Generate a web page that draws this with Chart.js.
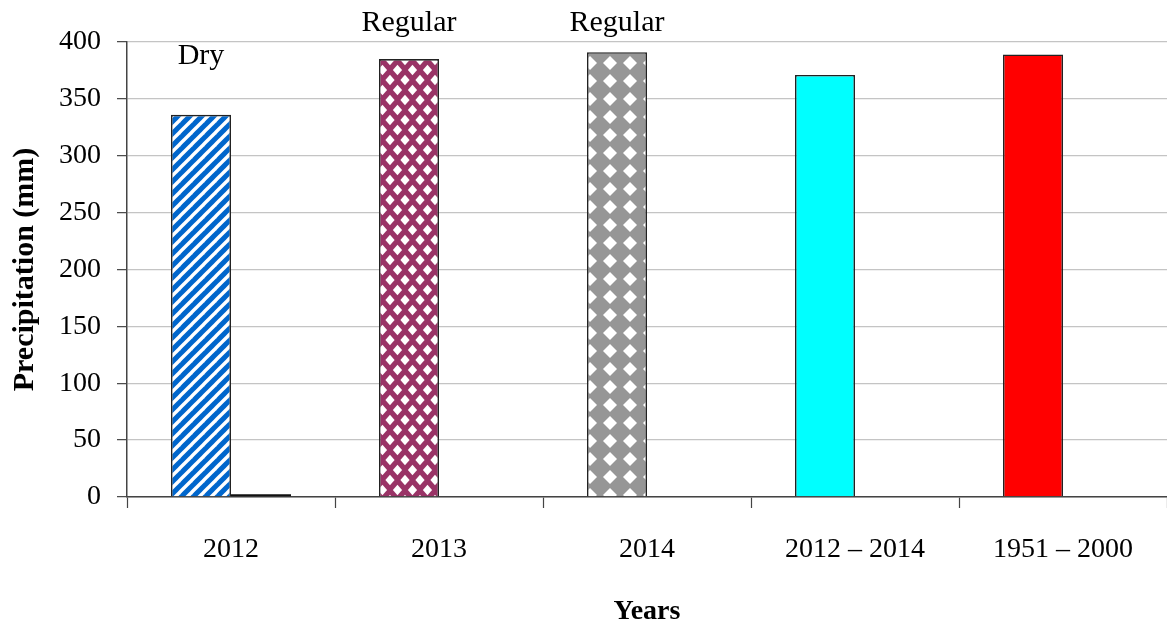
<!DOCTYPE html>
<html>
<head>
<meta charset="utf-8">
<script src="https://cdn.jsdelivr.net/npm/chart.js@4.4.1/dist/chart.umd.min.js"></script>
<style>
  html, body { margin: 0; padding: 0; background: #fff; overflow: hidden; }
  #wrap { width: 1167px; height: 626px; position: relative; }
</style>
</head>
<body>
<div id="wrap"><canvas id="chart"></canvas></div>
<script>
// Annual precipitation per period
const periods = ['2012', '2013', '2014', '2012 – 2014', '1951 – 2000'];
const precipitation = [336, 385, 391, 371, 389];
const secondary = [2.5, 0, 0, 0, 0];
const barNotes = ['Dry', 'Regular', 'Regular', '', ''];
const yTicks = [0, 50, 100, 150, 200, 250, 300, 350, 400];

const SERIF = '"Liberation Serif", "Times New Roman", serif';

function makeTile(w, h, draw) {
  const c = document.createElement('canvas');
  c.width = w; c.height = h;
  const g = c.getContext('2d');
  draw(g, w, h);
  return document.getElementById('chart').getContext('2d').createPattern(c, 'repeat');
}

// blue with white diagonal stripes
const stripes = makeTile(12, 12, (g, w, h) => {
  g.fillStyle = '#0066CC';
  g.fillRect(0, 0, w, h);
  g.strokeStyle = '#ffffff';
  g.lineWidth = 3.4;
  [[0, 12, 12, 0], [-6, 6, 6, -6], [6, 18, 18, 6]].forEach(([a, b, c, d]) => {
    g.beginPath(); g.moveTo(a, b); g.lineTo(c, d); g.stroke();
  });
});

function diamond(g, cx, cy, hw, hh) {
  g.beginPath();
  g.moveTo(cx, cy - hh); g.lineTo(cx + hw, cy);
  g.lineTo(cx, cy + hh); g.lineTo(cx - hw, cy);
  g.closePath(); g.fill();
}

// maroon with offset white diamonds
const maroonDiamonds = makeTile(15, 20, (g, w, h) => {
  g.fillStyle = '#993366';
  g.fillRect(0, 0, w, h);
  g.fillStyle = '#ffffff';
  [[0, 0], [w, 0], [0, h], [w, h], [w / 2, h / 2]].forEach(([x, y]) => diamond(g, x, y, 4.6, 5.2));
});

// grey with white diamonds in a square grid
const greyDiamonds = makeTile(20, 18, (g, w, h) => {
  g.fillStyle = '#969696';
  g.fillRect(0, 0, w, h);
  g.fillStyle = '#ffffff';
  diamond(g, w / 2, h / 2, 7, 7);
});

const notesPlugin = {
  id: 'barNotes',
  afterDatasetsDraw(chart, args, opts) {
    const { ctx } = chart;
    const meta = chart.getDatasetMeta(0);
    const y = chart.scales.y;
    ctx.save();
    ctx.font = opts.font;
    ctx.fillStyle = '#000';
    ctx.textAlign = 'center';
    ctx.textBaseline = 'alphabetic';
    barNotes.forEach((txt, i) => {
      if (!txt) return;
      const bar = meta.data[i];
      ctx.fillText(txt, bar.x, y.getPixelForValue(opts.levels[i]));
    });
    ctx.restore();
  }
};

new Chart(document.getElementById('chart'), {
  type: 'bar',
  data: {
    labels: periods,
    datasets: [
      {
        data: precipitation,
        backgroundColor: [stripes, maroonDiamonds, greyDiamonds, '#00FFFF', '#FF0000'],
        borderColor: '#222222',
        borderWidth: 1.6,
        borderSkipped: 'bottom'
      },
      {
        data: secondary,
        backgroundColor: '#111111',
        borderWidth: 0
      }
    ]
  },
  options: {
    responsive: true,
    maintainAspectRatio: false,
    animation: false,
    devicePixelRatio: 1,
    categoryPercentage: 0.577,
    barPercentage: 1,
    layout: { padding: { top: 42, right: 0, left: 0, bottom: 0 } },
    plugins: {
      legend: { display: false },
      tooltip: { enabled: false },
      barNotes: { font: '30px ' + SERIF, levels: [381, 410, 410, null, null] }
    },
    scales: {
      x: {
        grid: {
          offset: true,
          drawOnChartArea: false,
          drawTicks: true,
          tickLength: 11,
          tickColor: '#444444',
          tickWidth: 1.2
        },
        border: { color: '#444444', width: 1.5 },
        ticks: {
          color: '#000',
          padding: 25,
          maxRotation: 0,
          autoSkip: false,
          font: { family: SERIF, size: 28 }
        },
        title: {
          display: true,
          text: 'Years',
          color: '#000',
          font: { family: SERIF, size: 28, weight: 'bold', lineHeight: 1 },
          padding: { top: 2, bottom: 0 }
        },
        afterFit(scale) { scale.height = 129; }
      },
      y: {
        min: 0,
        max: 400,
        afterBuildTicks(scale) { scale.ticks = yTicks.map(v => ({ value: v })); },
        grid: {
          color: '#c4c4c4',
          lineWidth: 1.3,
          drawTicks: true,
          tickLength: 10,
          tickColor: '#444444',
          tickWidth: 1.2
        },
        border: { color: '#444444', width: 1.5 },
        ticks: {
          color: '#000',
          padding: 16,
          font: { family: SERIF, size: 28 }
        },
        title: {
          display: true,
          text: 'Precipitation (mm)',
          color: '#000',
          font: { family: SERIF, size: 30, weight: 'bold', lineHeight: 1 },
          padding: { top: 10, bottom: 0 }
        },
        afterFit(scale) { scale.width = 127; }
      }
    }
  },
  plugins: [notesPlugin]
});
</script>
</body>
</html>
